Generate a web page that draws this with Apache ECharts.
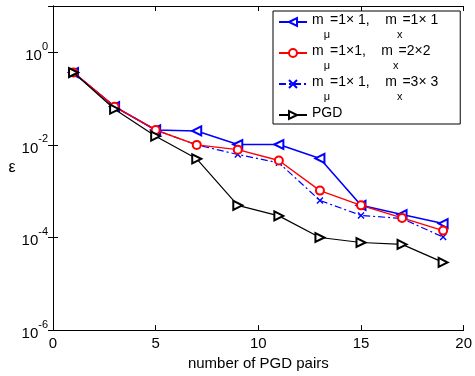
<!DOCTYPE html>
<html>
<head>
<meta charset="utf-8">
<script src="https://cdn.jsdelivr.net/npm/echarts@6/dist/echarts.min.js"></script>
<style>html,body{margin:0;padding:0;background:#fff}#c{width:475px;height:376px}</style>
</head>
<body>
<div id="c"></div>
<script>
var pairs = [1, 3, 5, 7, 9, 11, 13, 15, 17, 19];
var m1x1 = [0.366, 0.067, 0.021, 0.020, 0.0102, 0.0102, 0.0051, 0.000495, 0.000313, 0.0002];
var m2x2 = [0.366, 0.067, 0.021, 0.010, 0.0079, 0.0046, 0.00103, 0.000495, 0.000265, 0.000141];
var m3x3 = [0.366, 0.067, 0.021, 0.010, 0.0062, 0.0041, 0.00063, 0.0003, 0.000257, 0.000102];
var pgd  = [0.366, 0.059, 0.0154, 0.005, 0.000495, 0.000293, 0.0001, 0.000078, 0.000071, 0.000029];
var xTicks = [0, 5, 10, 15, 20];
var yTickExps = [-6, -4, -2, 0];

var names = ['m1x1', 'm2x2', 'm3x3', 'PGD'];
var legendRich = {
  'm1x1': '{t|m}{s|μ}{t|=1× 1,    m}{s|x}{t|=1× 1}',
  'm2x2': '{t|m}{s|μ}{t|=1×1,    m}{s|x}{t|=2×2}',
  'm3x3': '{t|m}{s|μ}{t|=1× 1,    m}{s|x}{t|=3× 3}',
  'PGD': '{t|PGD}'
};
function pts(arr) { return pairs.map(function (x, i) { return [x, arr[i]]; }); }
var font = 'Liberation Sans, Arial, Helvetica, sans-serif';
var chart = echarts.init(document.getElementById('c'), null, {renderer: 'canvas'});
var xMark = 'path://M0,0L10,10M10,0L0,10';
chart.setOption({
  animation: false,
  backgroundColor: '#fff',
  grid: {left: 53, right: 8, top: 6, bottom: 44, show: false},
  legend: {
    data: names,
    orient: 'vertical',
    left: 273, top: 11,
    padding: [2, 22, 4, 5],
    itemGap: 4,
    itemWidth: 28, itemHeight: 10,
    borderColor: '#000', borderWidth: 1,
    backgroundColor: '#fff',
    formatter: function (n) { return legendRich[n]; },
    textStyle: {
      fontFamily: font,
      rich: {
        t: {fontSize: 14, fontFamily: font, color: '#000', lineHeight: 18, verticalAlign: 'top'},
        s: {fontSize: 11, fontFamily: font, color: '#000', lineHeight: 18, verticalAlign: 'bottom', padding: [0, 0, -9, 0]}
      }
    }
  },
  xAxis: [{
    type: 'value', min: 0, max: 20, interval: 5,
    name: 'number of PGD pairs', nameLocation: 'middle', nameGap: 22,
    nameTextStyle: {fontSize: 15, fontFamily: font, color: '#000'},
    axisLine: {show: true, lineStyle: {color: '#000', width: 1}},
    axisTick: {show: true, inside: true, length: 5, lineStyle: {color: '#000'}},
    axisLabel: {fontSize: 15, fontFamily: font, color: '#000', margin: 6,
      formatter: function (v) { return xTicks.indexOf(v) >= 0 ? String(v) : ''; }},
    splitLine: {show: false}
  }, {
    type: 'value', min: 0, max: 20, interval: 5, position: 'top',
    axisLine: {show: true, lineStyle: {color: '#000', width: 1}},
    axisTick: {show: true, inside: true, length: 5, lineStyle: {color: '#000'}},
    axisLabel: {show: false}, splitLine: {show: false}
  }],
  yAxis: [{
    type: 'log', logBase: 10, min: 1e-6, max: 10, interval: 2,
    name: 'ε', nameLocation: 'middle', nameGap: 37, nameRotate: 0,
    nameTextStyle: {fontSize: 16, fontFamily: font, color: '#000'},
    axisLine: {show: true, lineStyle: {color: '#000', width: 1}},
    axisTick: {show: true, inside: true, length: 5, lineStyle: {color: '#000'}},
    axisLabel: {
      margin: 5, fontFamily: font, color: '#000',
      formatter: function (v) {
        var e = Math.round(Math.log10(v));
        if (yTickExps.indexOf(e) < 0) return '';
        return '{b|10}{s|' + e + '}';
      },
      rich: {
        b: {fontSize: 15, fontFamily: font, color: '#000', lineHeight: 22, verticalAlign: 'bottom'},
        s: {fontSize: 11, fontFamily: font, color: '#000', lineHeight: 22, verticalAlign: 'top'}
      }
    },
    splitLine: {show: false}, minorTick: {show: false}
  }, {
    type: 'log', logBase: 10, min: 1e-6, max: 10, interval: 2, position: 'right',
    axisLine: {show: true, lineStyle: {color: '#000', width: 1}},
    axisTick: {show: true, inside: true, length: 5, lineStyle: {color: '#000'}},
    axisLabel: {show: false}, splitLine: {show: false}
  }],
  series: [{
    name: 'm1x1', type: 'line', data: pts(m1x1),
    symbol: 'emptyTriangle', symbolRotate: 90, symbolSize: 9,
    lineStyle: {color: '#0000ff', width: 1.6},
    itemStyle: {color: '#0000ff', borderColor: '#0000ff', borderWidth: 1.2},
    z: 3
  }, {
    name: 'm2x2', type: 'line', data: pts(m2x2),
    symbol: 'emptyCircle', symbolSize: 8,
    lineStyle: {color: '#ff0000', width: 1.4},
    itemStyle: {color: '#ff0000', borderColor: '#ff0000', borderWidth: 1.2},
    z: 4
  }, {
    name: 'm3x3', type: 'line', data: pts(m3x3),
    symbol: xMark, symbolSize: 6,
    lineStyle: {color: '#0000ff', width: 1.2, type: [7, 3, 2, 3]},
    itemStyle: {color: 'none', borderColor: '#0000ff', borderWidth: 1.4},
    z: 2
  }, {
    name: 'PGD', type: 'line', data: pts(pgd),
    symbol: 'emptyTriangle', symbolRotate: -90, symbolSize: 9,
    lineStyle: {color: '#000000', width: 1.2},
    itemStyle: {color: '#000000', borderColor: '#000000', borderWidth: 1.2},
    z: 5
  }]
});
</script>
</body>
</html>
